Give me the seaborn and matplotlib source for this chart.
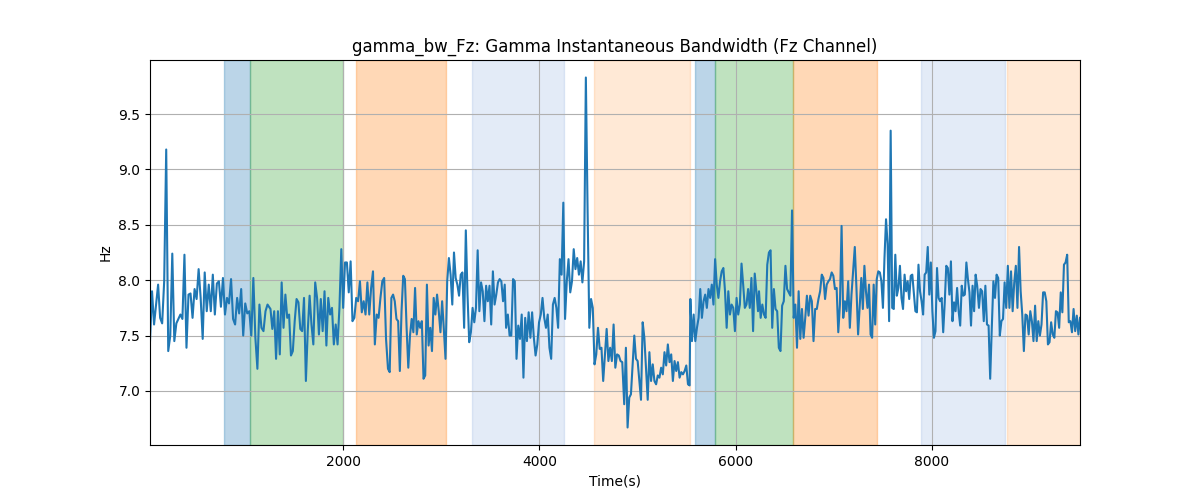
import numpy as np
import pandas as pd
import matplotlib
matplotlib.use("Agg")
import matplotlib.pyplot as plt
import seaborn as sns

# Signal values, in consecutive time segments
seg1 = [7.45, 7.90, 7.60, 7.78, 7.96, 7.66, 7.61, 7.99, 9.18, 7.36, 7.50, 8.24, 7.45, 7.61,
        7.65, 7.69, 7.65, 8.23, 7.39, 7.87, 7.88, 7.66, 7.92, 7.83, 8.10, 7.84, 7.47, 8.07,
        7.72, 7.96, 7.72, 8.05, 7.69, 7.97, 7.99, 7.76, 8.02, 7.69, 7.84, 7.79, 8.01, 7.65,
        7.60, 7.84, 7.70, 7.92, 7.50, 7.79, 7.70, 7.72, 7.50, 8.02, 7.48, 7.20, 7.78, 7.57,
        7.54, 7.72, 7.78]
seg2 = [7.74, 7.56, 7.72, 7.29, 7.72, 7.33, 7.98, 7.57, 7.87, 7.66, 7.69, 7.32, 7.36, 7.63,
        7.83, 7.80, 7.56, 7.54, 7.84, 7.09, 7.54, 7.86, 7.60, 7.42, 7.98, 7.84, 7.51, 7.83,
        7.54, 7.90, 7.41, 7.84, 7.69, 7.75, 7.42, 7.60, 7.42, 7.75, 8.28, 7.75, 8.16, 8.16,
        7.89, 8.17, 7.63, 7.66, 7.84, 7.81, 7.99, 7.71, 7.81, 7.69, 7.98, 7.69, 7.93, 8.08,
        7.42, 7.69, 7.66, 7.84, 7.99, 8.02, 7.47]
seg3 = [7.20, 7.17, 7.84, 7.87, 7.81, 7.65, 7.63, 7.18, 7.72, 8.04, 8.01, 7.57, 7.21, 7.50,
        7.65, 7.53, 7.93, 7.51, 7.63, 7.57, 7.63, 7.11, 7.14, 7.96, 7.41, 7.57, 7.36, 7.84,
        7.69, 7.87, 7.72, 7.53, 7.81, 7.56, 7.29, 7.99, 8.20, 8.05, 7.78, 8.25, 8.02, 7.96,
        7.86, 8.05, 8.07, 7.57, 8.45, 7.87, 7.44, 7.53, 7.75, 7.62, 7.75, 8.27, 7.72, 7.98,
        7.90, 7.63, 7.95, 7.81, 7.95, 7.60, 8.08, 7.78, 7.87, 7.98, 8.01, 7.99, 7.81, 7.96]
seg4 = [7.57, 7.69, 7.50, 7.50, 8.01, 7.99, 7.29, 7.59, 7.47, 7.69, 7.12, 7.66, 7.45, 7.71,
        7.48, 7.71, 7.48, 7.32, 7.42, 7.62, 7.69, 7.84, 7.66, 7.57, 7.69, 7.39, 7.29, 7.78,
        7.84, 7.75, 7.57, 8.19, 8.05, 8.70, 7.65, 7.99, 8.19, 7.89, 7.99, 8.28, 8.10, 8.20,
        8.05, 8.17, 7.98, 8.17, 9.83, 8.63, 7.57, 7.83, 7.75, 7.24, 7.33, 7.57, 7.38, 7.39,
        7.09, 7.33, 7.56, 7.27, 7.39, 7.27, 7.60, 7.21, 7.33, 7.32, 7.27, 7.26]
seg5 = [6.88, 7.39, 6.67, 6.94, 6.97, 7.24, 7.50, 7.29, 7.27, 7.09, 6.92, 7.62, 7.48, 7.20,
        6.92, 7.35, 7.09, 7.24, 7.09, 7.06, 7.14, 7.12, 7.21, 7.15, 7.35, 7.23, 7.42, 7.26,
        7.33, 7.09, 7.27, 7.18, 7.26, 7.12, 7.17, 7.15, 7.18, 7.23, 7.06, 7.05]
seg6 = [7.83, 7.45, 7.69, 7.45, 7.57, 7.66, 7.92, 7.66, 7.81, 7.87, 7.75, 7.92, 7.84, 7.96,
        7.78, 8.19, 7.96, 7.84, 7.99, 8.08, 8.11, 7.90, 7.57, 7.90, 7.69, 7.78, 7.75, 7.54,
        7.84, 7.69, 7.78, 8.15, 7.96, 7.75, 7.78, 7.92, 7.75, 8.02, 7.54, 8.06, 7.90, 7.72]
seg7 = [7.90, 7.66, 7.78, 7.69, 7.66, 8.14, 8.25, 8.27, 7.57, 7.92, 7.74, 7.72, 7.39, 7.36,
        7.77, 7.81, 8.13, 7.92, 7.89, 7.86, 8.63, 7.66, 7.78, 7.39, 7.90, 7.47, 7.74, 7.48,
        7.66, 7.86, 7.68, 7.86, 7.81, 7.45, 7.74, 7.74, 7.83, 7.90, 8.05, 8.02, 7.83, 7.96,
        7.99, 8.01, 8.07, 8.04, 7.92, 7.93, 7.53, 7.78, 8.49, 7.66, 7.81, 7.72, 7.99, 7.57,
        7.87, 8.08, 8.30, 7.93, 7.51]
seg8 = [7.78, 8.02, 7.74, 8.13, 7.90, 7.75, 7.96, 7.51, 7.48, 7.96, 7.60, 8.01, 8.08, 8.07,
        7.99, 7.75, 8.20, 8.55, 8.33, 7.63, 9.35, 7.75, 7.74, 8.23, 7.86, 7.93, 8.13, 7.84,
        7.74, 8.05, 7.90, 7.99, 7.83, 8.04, 8.05, 7.89, 7.72, 7.71, 8.14, 7.90, 7.81, 7.69,
        8.05, 8.07, 8.30, 7.87, 8.16, 7.72, 7.48, 7.54, 8.11, 7.84, 7.81, 7.84, 7.53, 7.80,
        8.13, 8.11, 7.87, 8.17, 7.63, 7.80, 7.72, 7.93, 7.72, 7.59, 7.95, 7.86, 7.87, 8.16,
        8.01, 7.89, 7.59, 7.95, 7.72, 8.05, 7.95]
seg9 = [7.75, 7.92, 7.90, 7.63, 7.95, 7.60, 7.59, 7.11, 7.57, 7.99, 7.84, 8.05, 8.02, 7.50,
        7.63, 7.65, 7.98, 7.75, 8.13, 7.75, 8.08, 7.72, 7.98, 8.13, 7.75, 8.30, 7.90, 7.69,
        7.36, 7.69, 7.68, 7.51, 7.72, 7.63, 7.45, 7.77, 7.45, 7.63, 7.50, 7.60, 7.89, 7.89,
        7.81, 7.42, 7.44, 7.62, 7.51, 7.48, 7.72, 7.71, 7.57, 7.89, 7.71, 8.14, 8.16, 8.23,
        7.62, 7.63, 7.53, 7.74, 7.54, 7.68, 7.51, 7.66]

segments = [seg1, seg2, seg3, seg4, seg5, seg6, seg7, seg8, seg9]
# Time span (s) covered by each segment
seg_spans = [(30, 1228), (1258, 2436), (2456, 3646), (3660, 4844), (4864, 5531),
             (5538, 6228), (6238, 7248), (7265, 8462), (8480, 9510)]

# Shaded intervals (start, end) by kind
span_strong_blue = [(786, 1051), (5582, 5786)]
span_green = [(1051, 2000), (5786, 6582)]
span_strong_orange = [(2133, 3051), (6582, 7439)]
span_light_blue = [(3316, 4255), (7888, 8745)]
span_light_orange = [(4561, 5531), (8765, 9510)]

times, values = [], []
for seg, (a, b) in zip(segments, seg_spans):
    times.extend(np.linspace(a, b, len(seg)))
    values.extend(seg)
df = pd.DataFrame({"Time(s)": times, "Hz": values})

fig, ax = plt.subplots(figsize=(12, 5), dpi=100)

for a, b in span_strong_blue:
    ax.axvspan(a, b, color="tab:blue", alpha=0.3, lw=1)
for a, b in span_green:
    ax.axvspan(a, b, color="tab:green", alpha=0.3, lw=1)
for a, b in span_strong_orange:
    ax.axvspan(a, b, color="tab:orange", alpha=0.3, lw=1)
for a, b in span_light_blue:
    ax.axvspan(a, b, color="#3f74c8", alpha=0.14, lw=1)
for a, b in span_light_orange:
    ax.axvspan(a, b, color="tab:orange", alpha=0.17, lw=1)

sns.lineplot(data=df, x="Time(s)", y="Hz", ax=ax, color="tab:blue", linewidth=1.5,
             estimator=None, sort=False)

ax.set_xlim(df["Time(s)"].min(), df["Time(s)"].max())
ax.grid(True)
ax.set_title("gamma_bw_Fz: Gamma Instantaneous Bandwidth (Fz Channel)")
ax.set_xlabel("Time(s)")
ax.set_ylabel("Hz")

fig.savefig("out.png", dpi=100)
